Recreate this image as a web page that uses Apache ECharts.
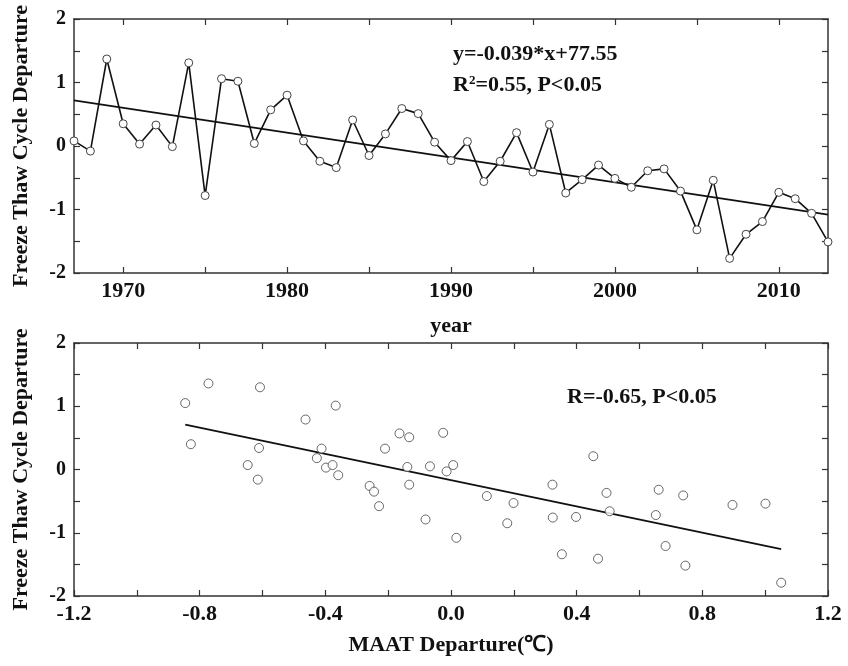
<!DOCTYPE html>
<html><head><meta charset="utf-8">
<script src="https://cdn.jsdelivr.net/npm/echarts@6/dist/echarts.min.js"></script>
<style>html,body{margin:0;padding:0;background:#fff}#c{width:848px;height:666px}</style>
</head><body><div id="c"></div>
<script>
const years = [1967,1968,1969,1970,1971,1972,1973,1974,1975,1976,1977,1978,1979,1980,1981,1982,1983,1984,1985,1986,1987,1988,1989,1990,1991,1992,1993,1994,1995,1996,1997,1998,1999,2000,2001,2002,2003,2004,2005,2006,2007,2008,2009,2010,2011,2012,2013];
const ftcDeparture = [0.08,-0.08,1.37,0.35,0.03,0.33,-0.01,1.31,-0.78,1.06,1.02,0.04,0.57,0.80,0.08,-0.24,-0.34,0.41,-0.15,0.19,0.59,0.51,0.06,-0.23,0.07,-0.56,-0.24,0.21,-0.41,0.34,-0.74,-0.53,-0.30,-0.51,-0.65,-0.39,-0.36,-0.71,-1.32,-0.54,-1.77,-1.39,-1.19,-0.73,-0.83,-1.06,-1.51];
const trendYears = [1967, 2013];
const trendValues = [0.72, -1.08];
const maatX = [-0.846,-0.772,-0.828,-0.608,-0.611,-0.647,-0.615,-0.463,-0.367,-0.412,-0.427,-0.398,-0.377,-0.359,-0.259,-0.245,-0.229,-0.210,-0.164,-0.133,-0.139,-0.133,-0.081,-0.067,-0.025,-0.014,0.007,0.017,0.114,0.199,0.179,0.323,0.324,0.353,0.398,0.453,0.468,0.495,0.505,0.652,0.661,0.683,0.739,0.746,0.896,1.001,1.051];
const maatY = [1.05,1.36,0.40,1.30,0.34,0.07,-0.16,0.79,1.01,0.33,0.18,0.03,0.07,-0.09,-0.26,-0.35,-0.58,0.33,0.57,0.51,0.04,-0.24,-0.79,0.05,0.58,-0.03,0.07,-1.08,-0.42,-0.53,-0.85,-0.24,-0.76,-1.34,-0.75,0.21,-1.41,-0.37,-0.66,-0.72,-0.32,-1.21,-0.41,-1.52,-0.56,-0.54,-1.79];
const fitX = [-0.846, 1.051];
const fitY = [0.71, -1.26];
const yearTicks = [1970,1975,1980,1985,1990,1995,2000,2005,2010];
const yearLabels = [1970,1980,1990,2000,2010];
const maatTicks = [-1.2,-1.0,-0.8,-0.6,-0.4,-0.2,0,0.2,0.4,0.6,0.8,1.0,1.2];
const maatLabels = [-1.2,-0.8,-0.4,0,0.4,0.8,1.2];

const FONT = 'Liberation Serif';
const axisColor = '#333';
const xLblStyle = {fontFamily: FONT, fontWeight: 'bold', fontSize: 22, color: '#111'};
const yLblStyle = {fontFamily: FONT, fontWeight: 'bold', fontSize: 20, color: '#111'};
const nameStyle = {fontFamily: FONT, fontWeight: 'bold', fontSize: 22, color: '#111'};

function yAx(gi, right, name) {
  return {
    type: 'value', gridIndex: gi, min: -2, max: 2, interval: 1,
    position: right ? 'right' : 'left',
    name: right ? '' : name, nameLocation: 'middle', nameGap: 42, nameRotate: 90,
    nameTextStyle: nameStyle,
    axisLine: {show: true, onZero: false, lineStyle: {color: axisColor, width: 1.5}},
    axisTick: {show: true, inside: true, length: 6, lineStyle: {color: axisColor, width: 1.2}},
    minorTick: {show: true, splitNumber: 2, length: 6, lineStyle: {color: axisColor, width: 1.2}},
    axisLabel: {show: !right, margin: 8, ...yLblStyle, formatter: v => String(v)},
    splitLine: {show: false}
  };
}
function xAx(gi, top, min, max, ticks, labels, fmt, name, gap) {
  return {
    type: 'value', gridIndex: gi, min: min, max: max,
    position: top ? 'top' : 'bottom',
    name: top ? '' : name, nameLocation: 'middle', nameGap: gap,
    nameTextStyle: nameStyle,
    axisLine: {show: true, onZero: false, lineStyle: {color: axisColor, width: 1.5}},
    axisTick: {show: true, inside: true, length: 6, customValues: ticks, lineStyle: {color: axisColor, width: 1.2}},
    axisLabel: {show: !top, margin: 7, customValues: labels, ...xLblStyle, formatter: fmt},
    splitLine: {show: false}
  };
}

const option = {
  animation: false,
  backgroundColor: '#fff',
  grid: [
    {left: 74, top: 19, width: 754, height: 254},
    {left: 74, top: 343, width: 754, height: 253}
  ],
  xAxis: [
    xAx(0, false, 1967, 2013, yearTicks, yearLabels, v => String(v), 'year', 42),
    xAx(0, true, 1967, 2013, yearTicks, yearLabels, v => String(v), '', 0),
    xAx(1, false, -1.2, 1.2, maatTicks, maatLabels, v => v.toFixed(1), 'MAAT Departure(℃)', 38),
    xAx(1, true, -1.2, 1.2, maatTicks, maatLabels, v => v.toFixed(1), '', 0)
  ],
  yAxis: [
    yAx(0, false, 'Freeze Thaw Cycle Departure'),
    yAx(0, true, ''),
    yAx(1, false, 'Freeze Thaw Cycle Departure'),
    yAx(1, true, '')
  ],
  graphic: [
    {type: 'text', left: 453, top: 43, style: {text: 'y=-0.039*x+77.55', fontFamily: FONT, fontWeight: 'bold', fontSize: 22, fill: '#111'}},
    {type: 'text', left: 453, top: 74, style: {
      text: 'R{s|2}=0.55, P<0.05', fontFamily: FONT, fontWeight: 'bold', fontSize: 22, fill: '#111',
      rich: {s: {fontFamily: FONT, fontWeight: 'bold', fontSize: 13, fill: '#111', verticalAlign: 'top', padding: [0,0,9,0]}}
    }},
    {type: 'text', left: 567, top: 386, style: {text: 'R=-0.65, P<0.05', fontFamily: FONT, fontWeight: 'bold', fontSize: 22, fill: '#111'}}
  ],
  series: [
    {
      type: 'line', xAxisIndex: 0, yAxisIndex: 0,
      data: years.map((y, i) => [y, ftcDeparture[i]]),
      lineStyle: {color: '#111', width: 1.6},
      symbol: 'circle', symbolSize: 8,
      itemStyle: {color: '#fff', borderColor: '#444', borderWidth: 1},
      clip: true, z: 3
    },
    {
      type: 'line', xAxisIndex: 0, yAxisIndex: 0,
      data: trendYears.map((y, i) => [y, trendValues[i]]),
      lineStyle: {color: '#111', width: 1.8}, symbol: 'none', z: 2
    },
    {
      type: 'scatter', xAxisIndex: 2, yAxisIndex: 2,
      data: maatX.map((x, i) => [x, maatY[i]]),
      symbol: 'circle', symbolSize: 9,
      itemStyle: {color: '#fff', borderColor: '#444', borderWidth: 1}, z: 3
    },
    {
      type: 'line', xAxisIndex: 2, yAxisIndex: 2,
      data: fitX.map((x, i) => [x, fitY[i]]),
      lineStyle: {color: '#111', width: 1.8}, symbol: 'none', z: 2
    }
  ]
};
const chart = echarts.init(document.getElementById('c'), null, {renderer: 'canvas'});
chart.setOption(option);
</script></body></html>
